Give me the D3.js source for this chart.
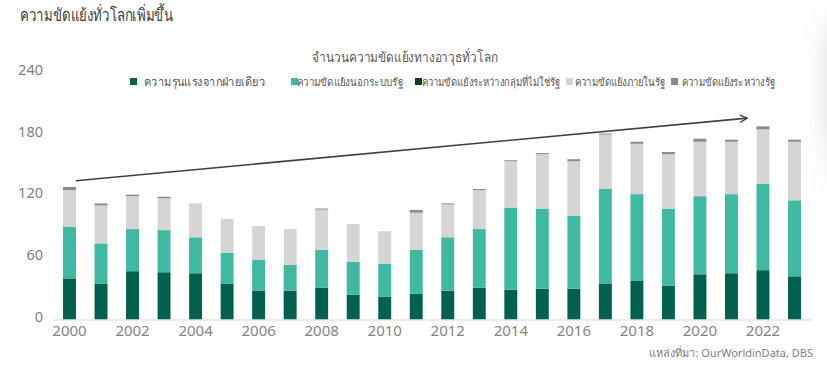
<!DOCTYPE html>
<html>
<head>
<meta charset="utf-8">
<script src="https://cdn.jsdelivr.net/npm/d3@7"></script>
<style>
  body { margin: 0; background: #fff; }
  svg text { font-family: "Noto Sans", "Open Sans", sans-serif; }
</style>
</head>
<body>
<div id="chart"></div>
<script>
/*
    จำนวนความขัดแย้งทางอาวุธทั่วโลก (stacked bars)
 */

var years = d3.range(2000, 2024);

var series_names = [
    'ความรุนแรงจากฝ่ายเดียว',
    'ความขัดแย้งนอกระบบรัฐ',
    'ความขัดแย้งระหว่างกลุ่มที่ไม่ใช่รัฐ',
    'ความขัดแย้งภายในรัฐ',
    'ความขัดแย้งระหว่างรัฐ'
];

var one_sided   = [40, 35, 47, 46, 45, 35, 28, 28, 31, 24, 22, 25, 28, 31, 29, 30, 30, 35, 38, 33, 44, 45, 48, 42];
var extra_state = [50, 39, 41, 41, 35, 30, 30, 25, 37, 32, 32, 43, 52, 57, 80, 78, 71, 92, 84, 75, 76, 77, 84, 74];
var non_state   = [0, 0, 0, 0, 0, 0, 0, 0, 0, 0, 0, 0, 0, 0, 0, 0, 0, 0, 0, 0, 0, 0, 0, 0];
var intra_state = [36, 37, 32, 31, 33, 33, 33, 35, 39, 37, 32, 36, 32, 38, 45, 53, 53, 53, 49, 53, 53, 51, 53, 57];
var inter_state = [3, 2, 1.5, 1.5, 0, 0, 0, 0, 1, 0, 0, 2.5, 1, 1, 1, 1, 2, 1, 2, 2, 3, 2, 3, 2];

var y_ticks = [0, 60, 120, 180, 240];
var x_tick_years = d3.range(2000, 2024, 2);

// trend arrow, given in year / value terms
var trend = [{year: 2000.2, value: 135}, {year: 2021.5, value: 196}];

var colors = ['#00614d', '#3fb9a2', '#0c3b2d', '#d5d5d5', '#8b8b8b'];

var svg_size = {'width': 827, 'height': 375};

var svg = d3.select('#chart')
    .append('svg')
    .attr('width', svg_size.width)
    .attr('height', svg_size.height);

// faint shade at right edge of the original screenshot
var defs = svg.append('defs');
var shade = defs.append('linearGradient').attr('id', 'shade')
    .attr('x1', 0).attr('x2', 1).attr('y1', 0).attr('y2', 0);
shade.append('stop').attr('offset', '0%').attr('stop-color', '#fff').attr('stop-opacity', 0);
shade.append('stop').attr('offset', '100%').attr('stop-color', '#efefef').attr('stop-opacity', 1);

var fade = defs.append('linearGradient').attr('id', 'fade')
    .attr('x1', 0).attr('x2', 0).attr('y1', 0).attr('y2', 1);
fade.append('stop').attr('offset', '0%').attr('stop-color', '#fff').attr('stop-opacity', 0);
fade.append('stop').attr('offset', '25%').attr('stop-color', '#fff').attr('stop-opacity', 1);
fade.append('stop').attr('offset', '60%').attr('stop-color', '#fff').attr('stop-opacity', 1);
fade.append('stop').attr('offset', '100%').attr('stop-color', '#fff').attr('stop-opacity', 0);

defs.append('mask').attr('id', 'fade-mask')
    .append('rect').attr('x', 790).attr('y', 0).attr('width', 37).attr('height', 200)
    .attr('fill', 'url(#fade)');

svg.append('rect').attr('x', 798).attr('y', 0).attr('width', 29).attr('height', 200)
    .attr('fill', 'url(#shade)')
    .attr('mask', 'url(#fade-mask)');

var table = years.map(function(y, i){
    return {year: y, s0: one_sided[i], s1: extra_state[i], s2: non_state[i], s3: intra_state[i], s4: inter_state[i]};
});
var keys = ['s0', 's1', 's2', 's3', 's4'];
var stacked = d3.stack().keys(keys)(table);

var x_scale = d3.scaleBand()
    .domain(years)
    .range([52, 812])
    .paddingInner(0.59)
    .paddingOuter(0.35);

var y_scale = d3.scaleLinear()
    .domain([0, 240])
    .range([319.5, 72.9]);

// year -> bar centre, for the arrow
var year_scale = d3.scaleLinear()
    .domain([2000, 2023])
    .range([x_scale(2000) + x_scale.bandwidth()/2, x_scale(2023) + x_scale.bandwidth()/2]);

// titles
svg.append('text')
    .attr('x', 20).attr('y', 21)
    .attr('font-size', 17)
    .attr('fill', '#404040')
    .attr('textLength', 153)
    .attr('lengthAdjust', 'spacingAndGlyphs')
    .text('ความขัดแย้งทั่วโลกเพิ่มขึ้น');

svg.append('text')
    .attr('x', 312).attr('y', 62)
    .attr('font-size', 14)
    .attr('fill', '#595959')
    .attr('textLength', 186)
    .attr('lengthAdjust', 'spacingAndGlyphs')
    .text('จำนวนความขัดแย้งทางอาวุธทั่วโลก');

// legend
var legend_layout = [
    {x: 130, tx: 144, tw: 121, fs: 12},
    {x: 291, tx: 297, tw: 106, fs: 11},
    {x: 415, tx: 422, tw: 138, fs: 11},
    {x: 566, tx: 575, tw: 90, fs: 11},
    {x: 671, tx: 682, tw: 93, fs: 11}
];

var legend = svg.append('g').selectAll('g')
    .data(series_names)
    .enter()
    .append('g');

legend.append('rect')
    .attr('x', function(d, i){ return legend_layout[i].x; })
    .attr('y', 78)
    .attr('width', 7)
    .attr('height', 7)
    .attr('fill', function(d, i){ return colors[i]; });

legend.append('text')
    .attr('x', function(d, i){ return legend_layout[i].tx; })
    .attr('y', 86)
    .attr('font-size', function(d, i){ return legend_layout[i].fs; })
    .attr('fill', '#595959')
    .attr('textLength', function(d, i){ return legend_layout[i].tw; })
    .attr('lengthAdjust', 'spacingAndGlyphs')
    .text(function(d){ return d; });

// y labels
svg.append('g').selectAll('text')
    .data(y_ticks)
    .enter()
    .append('text')
    .attr('x', 43)
    .attr('y', function(d){ return y_scale(d) - 4; })
    .attr('text-anchor', 'end')
    .attr('dominant-baseline', 'central')
    .attr('font-size', 14.5)
    .attr('fill', '#808080')
    .text(function(d){ return d; });

// bars
var layer = svg.append('g').selectAll('g')
    .data(stacked)
    .enter()
    .append('g')
    .attr('fill', function(d, i){ return colors[i]; });

layer.selectAll('rect')
    .data(function(d){ return d; })
    .enter()
    .append('rect')
    .attr('x', function(d){ return x_scale(d.data.year); })
    .attr('y', function(d){ return y_scale(d[1]); })
    .attr('width', x_scale.bandwidth())
    .attr('height', function(d){ return y_scale(d[0]) - y_scale(d[1]); });

// x axis
var x_axis = d3.axisBottom(x_scale)
    .tickValues(x_tick_years)
    .tickSize(0)
    .tickPadding(6);

var axis_group = svg.append('g')
    .attr('transform', 'translate(0,' + y_scale(0) + ')')
    .call(x_axis);

axis_group.select('.domain')
    .attr('stroke', '#d9d9d9')
    .attr('stroke-width', 1.2);

axis_group.selectAll('text')
    .attr('font-size', 15)
    .attr('fill', '#858585')
    .style('font-family', '"Noto Sans", "Open Sans", sans-serif');

// trend arrow
defs.append('marker')
    .attr('id', 'arrow')
    .attr('viewBox', '0 0 10 10')
    .attr('refX', 9).attr('refY', 5)
    .attr('markerWidth', 9).attr('markerHeight', 9)
    .attr('markerUnits', 'userSpaceOnUse')
    .attr('orient', 'auto')
    .append('path')
    .attr('d', 'M1,1 L9,5 L1,9')
    .attr('fill', 'none')
    .attr('stroke', '#404040')
    .attr('stroke-width', 1.4);

svg.append('line')
    .attr('x1', year_scale(trend[0].year) )
    .attr('y1', y_scale(trend[0].value))
    .attr('x2', year_scale(trend[1].year))
    .attr('y2', y_scale(trend[1].value))
    .attr('stroke', '#404040')
    .attr('stroke-width', 1.6)
    .attr('marker-end', 'url(#arrow)');

// source
svg.append('text')
    .attr('x', 813).attr('y', 357)
    .attr('text-anchor', 'end')
    .attr('font-size', 11)
    .attr('fill', '#7f7f7f')
    .text('แหล่งที่มา: OurWorldinData, DBS');
</script>
</body>
</html>
